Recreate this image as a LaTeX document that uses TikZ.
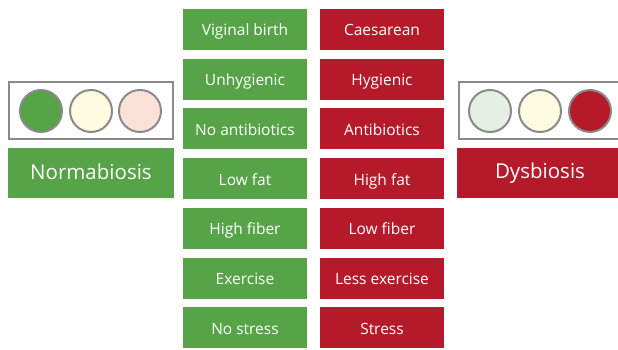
\documentclass[tikz,border=0pt]{standalone}
\usepackage{fontspec}
\setmainfont{Open Sans}
\definecolor{goodgreen}{HTML}{56A447}
\definecolor{badred}{HTML}{B51A2A}
\definecolor{lampgrey}{HTML}{8A8A8A}
\definecolor{paleyellow}{HTML}{FEFBE0}
\definecolor{palepink}{HTML}{FCE1D8}
\definecolor{palegreen}{HTML}{E6EFE3}
\tikzset{
  good/.style={fill=goodgreen, text=white, minimum width=124pt, minimum height=41pt, inner sep=0pt, text height=13pt, text depth=0pt, font=\fontsize{15.5}{18}\selectfont},
  bad/.style={fill=badred, text=white, minimum width=124pt, minimum height=41pt, inner sep=0pt, text height=13pt, text depth=0pt, font=\fontsize{15.5}{18}\selectfont},
  state/.style={text=white, minimum width=166pt, minimum height=50pt, inner sep=0pt, text height=16pt, text depth=4pt, font=\fontsize{20.5}{24}\selectfont},
  lampbox/.style={draw=lampgrey, line width=2pt, minimum width=164pt, minimum height=56pt, inner sep=0pt},
  lamp/.style={circle, draw=lampgrey, line width=2pt, minimum size=42pt, inner sep=0pt}
}
\begin{document}
\begin{tikzpicture}[x=1pt,y=-1pt]
\useasboundingbox (0,0) rectangle (618,350);
\clip (0,0) rectangle (618,350);
\node[good] (g1) at (245,29.5) {Viginal birth};
\node[good] (g2) at (245,79.2) {Unhygienic};
\node[good] (g3) at (245,128.9) {No antibiotics};
\node[good] (g4) at (245,178.6) {Low fat};
\node[good] (g5) at (245,228.3) {High fiber};
\node[good] (g6) at (245,278) {Exercise};
\node[good] (g7) at (245,327.7) {No stress};
\node[bad] (r1) at (382,29.5) {Caesarean};
\node[bad] (r2) at (382,79.2) {Hygienic};
\node[bad] (r3) at (382,128.9) {Antibiotics};
\node[bad] (r4) at (382,178.6) {High fat};
\node[bad] (r5) at (382,228.3) {Low fiber};
\node[bad] (r6) at (382,278) {Less exercise};
\node[bad] (r7) at (382,327.7) {Stress};
% left light
\node[lampbox] (nbox) at (91,110.5) {};
\node[lamp, fill=goodgreen] (n1) at (41,111) {};
\node[lamp, fill=paleyellow] (n2) at (91,111) {};
\node[lamp, fill=palepink] (n3) at (140,111) {};
\node[state, fill=goodgreen] (norm) at (91,173) {Normabiosis};
% right light
\node[lampbox] (dbox) at (541,110.5) {};
\node[lamp, fill=palegreen] (d1) at (490,111) {};
\node[lamp, fill=paleyellow] (d2) at (540,111) {};
\node[lamp, fill=badred] (d3) at (590,111) {};
\node[state, fill=badred] (dys) at (540,172.5) {Dysbiosis};
\end{tikzpicture}
\end{document}
